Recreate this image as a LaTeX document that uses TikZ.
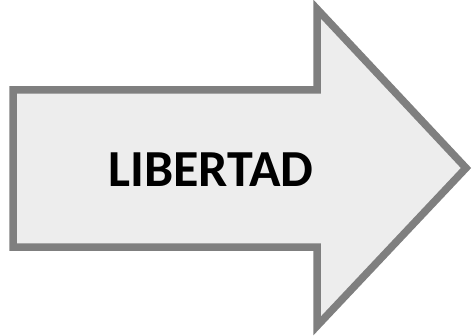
\documentclass[tikz,border=0pt]{standalone}
\usepackage{fontspec}
\setmainfont{Carlito}
\usetikzlibrary{positioning}

\definecolor{arrowfill}{HTML}{EDEDED}
\definecolor{arrowline}{HTML}{7F7F7F}

\begin{document}
\begin{tikzpicture}[
    x=1pt, y=1pt,
    bigarrow/.style={draw=arrowline, fill=arrowfill, line width=7.5pt, miter limit=20},
    lbl/.style={font=\fontsize{52}{58}\selectfont\bfseries, text=black}
]
\useasboundingbox (0,0) rectangle (476,335);
\coordinate (tl) at (13,245);
\coordinate (bl) at (13,88);
\coordinate (tip) at (466,167);
\draw[bigarrow] (tl) -- (317,245) -- (317,326) -- (tip) -- (317,9) -- (317,88) -- (bl) -- cycle;
\node[lbl] (libertad) at (211,165) {LIBERTAD};
\end{tikzpicture}
\end{document}
